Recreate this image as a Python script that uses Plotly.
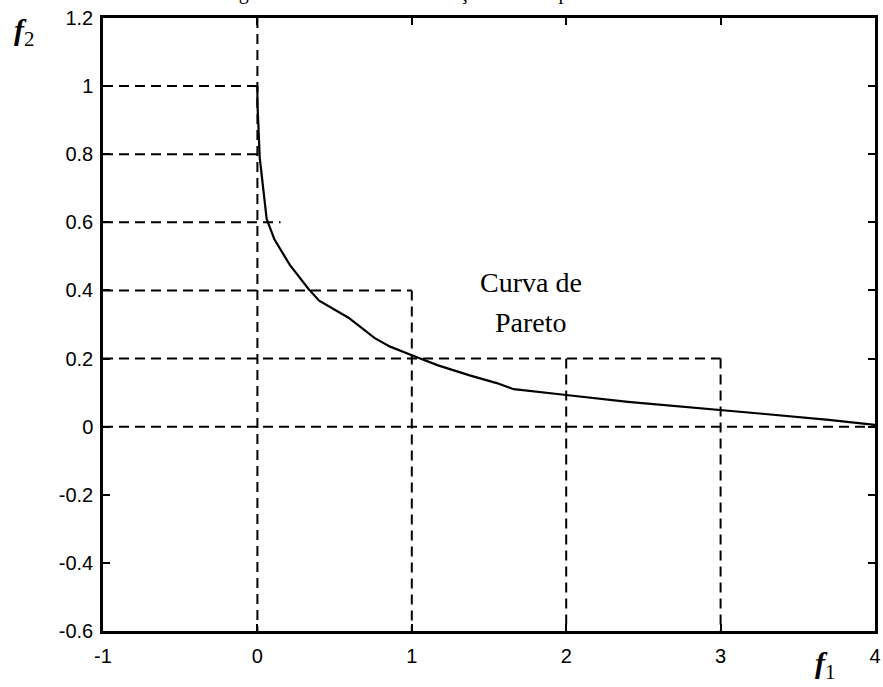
import plotly.graph_objects as go

# Pareto front (f1, f2)
f1_curve = [0.0, 0.0, 0.005, 0.015, 0.06, 0.11, 0.21, 0.33, 0.40, 0.48, 0.59,
            0.76, 0.86, 1.0, 1.17, 1.38, 1.55, 1.66, 1.75, 2.0, 2.4, 3.0,
            3.27, 3.7, 4.0]
f2_curve = [1.0, 0.95, 0.90, 0.79, 0.61, 0.55, 0.475, 0.405, 0.37, 0.35, 0.32,
            0.26, 0.235, 0.21, 0.18, 0.15, 0.128, 0.11, 0.105, 0.093, 0.073,
            0.05, 0.038, 0.02, 0.005]

# Horizontal guide lines: level, start, end
h_levels = [1.0, 0.8, 0.6, 0.4, 0.2, 0.0]
h_starts = [-1, -1, -1, -1, -1, -1]
h_ends = [0.0, 0.03, 0.15, 1.0, 3.0, 4.0]

# Vertical guide lines: position, top, bottom
v_positions = [0, 1, 2, 3]
v_tops = [1.2, 0.4, 0.2, 0.2]
v_bottoms = [-0.6, -0.6, -0.6, -0.6]

x_ticks = [-1, 0, 1, 2, 3, 4]
y_ticks = [-0.6, -0.4, -0.2, 0, 0.2, 0.4, 0.6, 0.8, 1.0, 1.2]
y_tick_text = ["-0.6", "-0.4", "-0.2", "0", "0.2", "0.4", "0.6", "0.8", "1", "1.2"]

guide = dict(color="black", width=2, dash="10px,6px")

fig = go.Figure()

for lvl, a, b in zip(h_levels, h_starts, h_ends):
    fig.add_trace(go.Scatter(x=[a, b], y=[lvl, lvl], mode="lines",
                             line=guide, hoverinfo="skip", showlegend=False))
for pos, t, btm in zip(v_positions, v_tops, v_bottoms):
    fig.add_trace(go.Scatter(x=[pos, pos], y=[t, btm], mode="lines",
                             line=guide, hoverinfo="skip", showlegend=False))

fig.add_trace(go.Scatter(x=f1_curve, y=f2_curve, mode="lines",
                         line=dict(color="black", width=2.2),
                         showlegend=False))

axis_common = dict(
    showgrid=False, zeroline=False, showline=True, linecolor="black",
    linewidth=2.5, mirror="ticks", ticks="inside", ticklen=7,
    tickcolor="black", tickwidth=1.5, ticklabeloverflow="allow",
    tickfont=dict(family="Liberation Sans, Arial", size=20, color="black"),
)

fig.update_xaxes(range=[-1, 4], tickvals=x_ticks,
                 ticktext=[str(v) for v in x_ticks], ticklabelstandoff=5,
                 **axis_common)
fig.update_yaxes(range=[-0.6, 1.2], tickvals=y_ticks,
                 ticktext=y_tick_text, ticklabelstandoff=3, **axis_common)

serif = "Liberation Serif, Times New Roman, serif"

fig.add_annotation(x=1.77, y=0.422, text="Curva de", showarrow=False,
                   font=dict(family=serif, size=28, color="black"))
fig.add_annotation(x=1.77, y=0.305, text="Pareto", showarrow=False,
                   font=dict(family=serif, size=28, color="black"))

# Axis names
fig.add_annotation(xref="paper", yref="paper", x=-0.1015, y=0.977,
                   xanchor="center", yanchor="middle", showarrow=False,
                   text="<b><i>f</i></b><sub>2</sub>",
                   font=dict(family=serif, size=30, color="black"))
fig.add_annotation(xref="paper", yref="paper", x=0.936, y=-0.055,
                   xanchor="center", yanchor="middle", showarrow=False,
                   text="<b><i>f</i></b><sub>1</sub>",
                   font=dict(family=serif, size=30, color="black"))

# Caption above the frame
fig.add_annotation(xref="paper", yref="paper", x=0.42, y=1.0,
                   xanchor="center", yanchor="bottom", yshift=12,
                   showarrow=False,
                   text="Figura 2.1 – Fronteira de soluções de compromisso",
                   font=dict(family=serif, size=20, color="black"))

fig.update_layout(
    width=883, height=687,
    margin=dict(l=103, r=2, t=18, b=56),
    plot_bgcolor="white", paper_bgcolor="white",
)

fig.write_html("out.html")
